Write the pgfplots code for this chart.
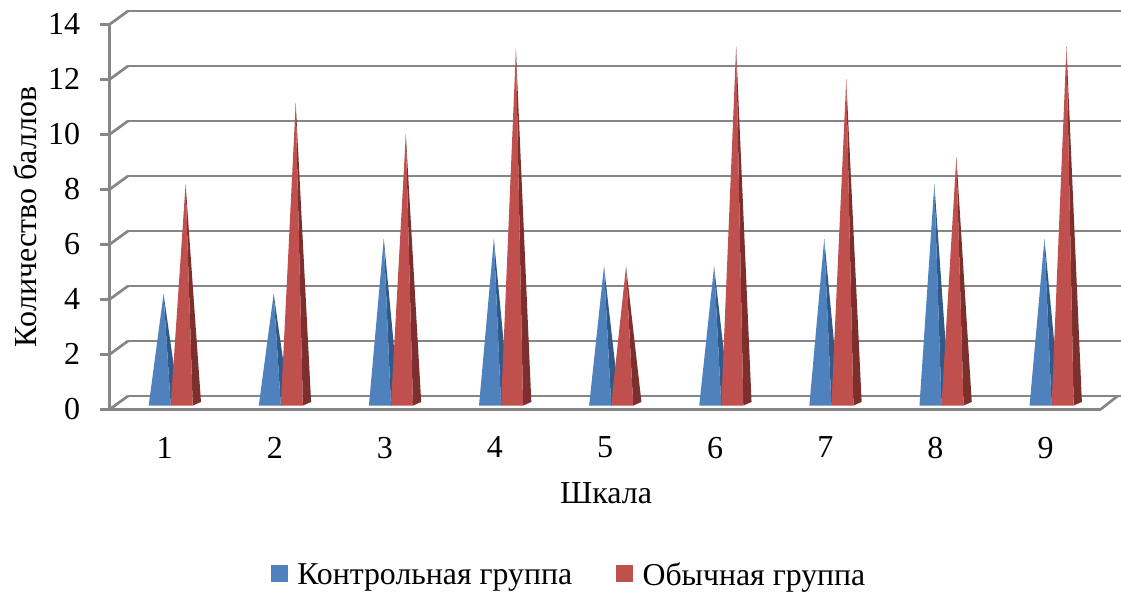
\documentclass[border=0pt]{standalone}
\usepackage{fontspec}
\setmainfont{Liberation Serif}
\usepackage{pgfplots}
\pgfplotsset{compat=1.18}
\definecolor{ctrl}{HTML}{4F81BD}
\definecolor{ctrldark}{HTML}{2F5A8A}
\definecolor{usual}{HTML}{C0504D}
\definecolor{usualdark}{HTML}{7D2F2D}
\definecolor{gridgray}{HTML}{868686}
\pgfplotsset{wall/.style={forget plot,gridgray,line width=2.7pt}}

% one cone: category, value, left, tip and right offsets from the category centre
\newcommand{\cone}[6]{%
  \pgfmathsetmacro{\xl}{#1+#3}%
  \pgfmathsetmacro{\xt}{#1+#4}%
  \pgfmathsetmacro{\xr}{#1+#5}%
  \pgfmathsetmacro{\xs}{#1+#5+0.075}%
  \pgfmathsetmacro{\yt}{#2+0.2}%
  \edef\temp{%
    \noexpand\addplot[forget plot,draw=none,fill=#6dark] coordinates {(\xt,\yt) (\xr,0.14) (\xs,0.27)} --cycle;
    \noexpand\addplot[forget plot,draw=none,fill=#6] coordinates {(\xl,0.14) (\xt,\yt) (\xr,0.14)} --cycle;
  }\temp}
\newcommand{\group}[3]{\cone{#1}{#2}{-0.145}{-0.01}{0.055}{ctrl}\cone{#1}{#3}{0.055}{0.19}{0.255}{usual}}

\begin{document}
\begin{tikzpicture}
\path[use as bounding box] (0pt,0pt) rectangle (1121pt,594pt);
\begin{axis}[
  at={(109.6pt,184.6pt)},anchor=south west,
  scale only axis,width=991pt,height=385pt,
  xmin=0.5,xmax=9.5,ymin=0,ymax=14,
  clip=false,
  axis lines*=left,
  axis line style={gridgray,line width=2.7pt,-},
  xtick={1,...,9},ytick={0,2,...,14},
  x tick style={draw=none},
  y tick style={gridgray,line width=2.7pt},
  tick align=outside,
  major tick length=10pt,
  tick label style={font=\fontsize{32}{36}\selectfont},
  /pgf/number format/assume math mode=true,
  xticklabel style={yshift=-14pt},
  yticklabel style={xshift=-16pt},
  xlabel={Шкала},
  ylabel={Количество баллов},
  label style={font=\fontsize{32}{36}\selectfont},
  xlabel style={at={(axis description cs:0.5,0)},anchor=center,xshift=1pt,yshift=-84pt},
  ylabel style={at={(axis description cs:0,0.5)},anchor=center,yshift=84pt},
  legend style={draw=none,fill=none,at={(459.5pt,-165pt)},anchor=center,
    font=\fontsize{31.8}{36}\selectfont,
    /tikz/column 1/.style={column sep=8pt},
    /tikz/column 2/.style={column sep=42pt},
    /tikz/column 3/.style={column sep=8pt}},
  legend columns=2,
  legend image code/.code={\fill[#1] (0pt,-7pt) rectangle (16pt,9pt);},
]
% walls and floor
\addplot[wall] coordinates {(0.668,0.49) (9.686,0.49)};
\addplot[wall] coordinates {(0.668,2.49) (9.686,2.49)};
\addplot[wall] coordinates {(0.668,4.49) (9.686,4.49)};
\addplot[wall] coordinates {(0.668,6.49) (9.686,6.49)};
\addplot[wall] coordinates {(0.668,8.49) (9.686,8.49)};
\addplot[wall] coordinates {(0.668,10.49) (9.686,10.49)};
\addplot[wall] coordinates {(0.668,12.49) (9.686,12.49)};
\addplot[wall] coordinates {(0.668,14.49) (9.686,14.49)};
\addplot[wall] coordinates {(0.5,0) (0.668,0.49)};
\addplot[wall] coordinates {(0.5,2) (0.668,2.49)};
\addplot[wall] coordinates {(0.5,4) (0.668,4.49)};
\addplot[wall] coordinates {(0.5,6) (0.668,6.49)};
\addplot[wall] coordinates {(0.5,8) (0.668,8.49)};
\addplot[wall] coordinates {(0.5,10) (0.668,10.49)};
\addplot[wall] coordinates {(0.5,12) (0.668,12.49)};
\addplot[wall] coordinates {(0.5,14) (0.668,14.49)};
\addplot[wall] coordinates {(9.5,0) (9.655,0.49)};
% category, control group, usual group
\group{1}{4}{8}
\group{2}{4}{10.95}
\group{3}{6}{9.8}
\group{4}{6}{12.9}
\group{5}{5}{5}
\group{6}{5}{13}
\group{7}{6}{11.8}
\group{8}{8}{9}
\group{9}{6}{13}
\addlegendimage{ctrl}
\addlegendentry{Контрольная группа}
\addlegendimage{usual}
\addlegendentry{Обычная группа}
\end{axis}
\end{tikzpicture}
\end{document}
